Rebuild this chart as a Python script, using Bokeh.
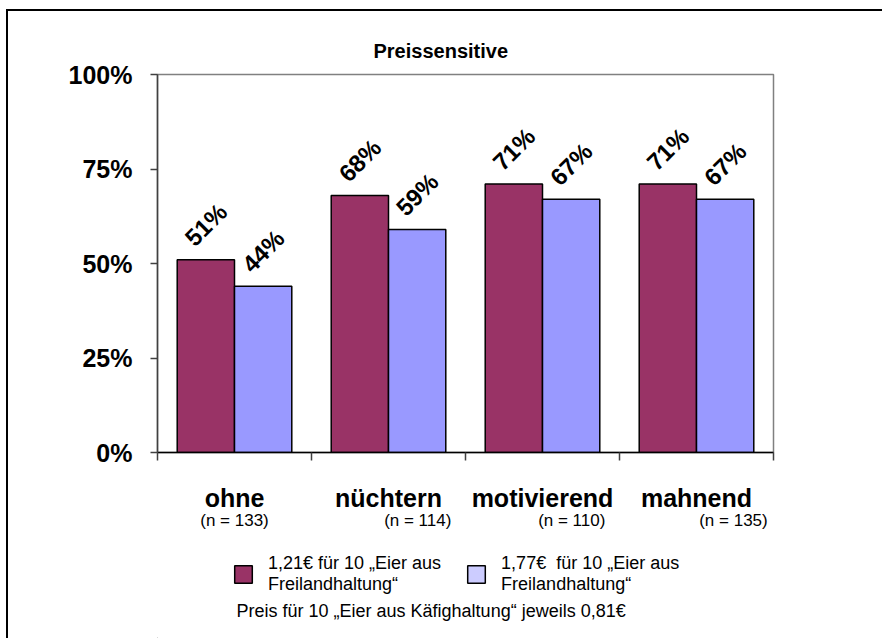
import math
from bokeh.plotting import figure
from bokeh.layouts import column
from bokeh.models import (Range1d, LinearAxis, FixedTicker, Label,
                          ColumnDataSource, Legend, LegendItem, Title)
from bokeh.transform import dodge
from bokeh.core.properties import value
from bokeh.embed import file_html
from bokeh.resources import INLINE

# ---------------- data ----------------
categories = ["ohne", "nüchtern", "motivierend", "mahnend"]
n_labels = ["(n = 133)", "(n = 114)", "(n = 110)", "(n = 135)"]
series_121 = [51, 68, 71, 71]
series_177 = [44, 59, 67, 67]
series_names = ["1,21€ für 10 „Eier aus\nFreilandhaltung“",
                "1,77€  für 10 „Eier aus\nFreilandhaltung“"]
y_ticks = [0, 25, 50, 75, 100]
y_tick_labels = ["0%", "25%", "50%", "75%", "100%"]
title_text = "Preissensitive"
footnote = "Preis für 10 „Eier aus Käfighaltung“ jeweils 0,81€"

# ---------------- layout / style ----------------
n_label_shift = [0.0, 0.19, 0.19, 0.24]   # in category widths
FONT = "Liberation Sans"
C1, C2, C2_LEG = "#993366", "#9999FF", "#CCCCFF"
BAR_OFF, BAR_W = 0.186, 0.372
W, H_TOP, H_BOT = 874, 534, 93
BL, BR = 149, 109
FRAME_W = W - BL - BR

ncat = len(categories)
centers = [i + 0.5 for i in range(ncat)]          # category slots on the x scale

p = figure(x_range=Range1d(0, ncat), y_range=Range1d(0, 100),
           width=W, height=H_TOP, output_backend="svg", toolbar_location=None,
           x_axis_location=None, y_axis_location=None,
           min_border_left=BL, min_border_right=BR,
           min_border_top=63, min_border_bottom=H_TOP - 441)
p.xgrid.visible = False
p.ygrid.visible = False
p.background_fill_color = "white"
p.border_fill_color = "white"
p.outline_line_color = "#808080"
p.outline_line_width = 1.5

# title
p.title = Title(text=title_text, align="left", offset=216, standoff=26,
                text_font=FONT, text_font_size="20px", text_font_style="bold",
                text_color="black")

# y axis
yax = LinearAxis(ticker=FixedTicker(ticks=y_ticks),
                 major_label_overrides=dict(zip(y_ticks, y_tick_labels)))
yax.axis_line_color = "#404040"
yax.axis_line_width = 1.5
yax.major_tick_line_color = "#404040"
yax.major_tick_line_width = 1.5
yax.major_tick_out = 7
yax.major_tick_in = 0
yax.minor_tick_line_color = None
yax.major_label_standoff = 18
yax.major_label_text_font = FONT
yax.major_label_text_font_size = "25px"
yax.major_label_text_font_style = "bold"
yax.major_label_text_color = "black"
p.add_layout(yax, "left")

# category axis: names at slot centres, separator ticks at slot borders
xcat = LinearAxis(ticker=FixedTicker(ticks=centers, minor_ticks=list(range(ncat + 1))),
                  major_label_overrides=dict(zip(centers, categories)))
xcat.axis_line_color = "black"
xcat.axis_line_width = 1.5
xcat.major_tick_line_color = None
xcat.major_tick_out = 0
xcat.major_tick_in = 0
xcat.minor_tick_line_color = "#404040"
xcat.minor_tick_line_width = 1.5
xcat.minor_tick_out = 8
xcat.minor_tick_in = 0
xcat.major_label_standoff = 23
xcat.major_label_text_font = FONT
xcat.major_label_text_font_size = "25px"
xcat.major_label_text_font_style = "bold"
xcat.major_label_text_color = "black"
p.add_layout(xcat, "below")

# n labels
n_pos = [c + s for c, s in zip(centers, n_label_shift)]
xn = LinearAxis(ticker=FixedTicker(ticks=n_pos),
                major_label_overrides=dict(zip(n_pos, n_labels)))
xn.axis_line_color = None
xn.major_tick_line_color = None
xn.minor_tick_line_color = None
xn.major_tick_out = 0
xn.major_label_standoff = -4
xn.major_label_text_font = FONT
xn.major_label_text_font_size = "17px"
xn.major_label_text_color = "black"
p.add_layout(xn, "below")

# bars
src = ColumnDataSource(dict(x=centers, a=series_121, b=series_177,
                            la=[f"{v}%" for v in series_121],
                            lb=[f"{v}%" for v in series_177]))
p.vbar(x=dodge("x", -BAR_OFF), top="a", width=BAR_W, source=src,
       fill_color=C1, line_color="black", line_width=1.5)
p.vbar(x=dodge("x", BAR_OFF), top="b", width=BAR_W, source=src,
       fill_color=C2, line_color="black", line_width=1.5)

for ycol, tcol, off in (("a", "la", -BAR_OFF), ("b", "lb", BAR_OFF)):
    p.text(x=dodge("x", off), y=ycol, text=tcol, source=src,
           angle=math.pi / 4, text_align="center", text_baseline="middle",
           y_offset=-35, text_font=value(FONT), text_font_size="24px",
           text_font_style="bold", text_color="black")

# ---------------- legend + footnote strip (frame aligned with the chart) ----------------
p2 = figure(width=W, height=H_BOT, x_range=Range1d(0, FRAME_W), y_range=Range1d(0, H_BOT),
            output_backend="svg", toolbar_location=None,
            min_border_left=BL, min_border_right=BR, min_border_top=0, min_border_bottom=0,
            x_axis_location=None, y_axis_location=None)
p2.grid.visible = False
p2.outline_line_color = None
p2.background_fill_color = "white"
p2.border_fill_color = "white"

# swatch-only renderers (one point kept outside the visible range)
d1 = p2.vbar(x=[-100], top=[-100], bottom=[-101], width=1, fill_color=C1,
             line_color="black", line_width=1.5)
d2 = p2.vbar(x=[-100], top=[-100], bottom=[-101], width=1, fill_color=C2_LEG,
             line_color="black", line_width=1.5)
legend = Legend(items=[LegendItem(label=series_names[0], renderers=[d1]),
                       LegendItem(label=series_names[1], renderers=[d2])],
                orientation="horizontal", location=(75, 43),
                glyph_width=22, glyph_height=22, spacing=24, padding=0, margin=0,
                label_text_font=FONT, label_text_font_size="18px",
                label_text_color="black",
                label_standoff=14, border_line_color=None, background_fill_alpha=0)
p2.add_layout(legend, "center")

foot = Label(x=79, y=28, text=footnote, text_align="left", text_baseline="middle",
             text_font=FONT, text_font_size="18px", text_color="black")
p2.add_layout(foot)

layout = column(p, p2, spacing=0,
                styles={"border-left": "2px solid black", "border-top": "2px solid black",
                        "margin-left": "6px", "margin-top": "9px"})

open("out.html", "w").write(file_html(layout, INLINE))
